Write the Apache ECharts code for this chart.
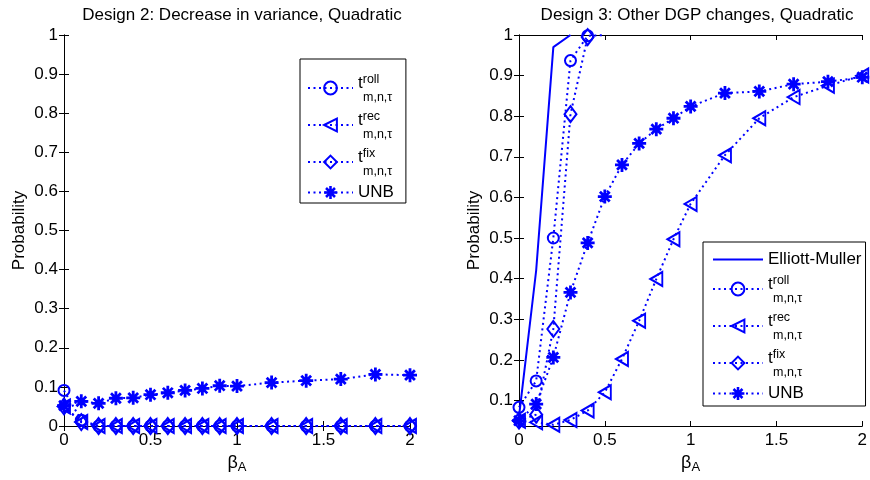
<!DOCTYPE html>
<html>
<head>
<meta charset="utf-8">
<script src="https://cdn.jsdelivr.net/npm/echarts@6/dist/echarts.min.js"></script>
<style>
  html, body { margin: 0; padding: 0; background: #fff; }
  #chart { width: 870px; height: 480px; }
</style>
</head>
<body>
<div id="chart"></div>
<script>
// beta_A values shared by both panels
const betaA = [0, 0.1, 0.2, 0.3, 0.4, 0.5, 0.6, 0.7, 0.8, 0.9, 1, 1.2, 1.4, 1.6, 1.8, 2];

// Design 2: Decrease in variance, Quadratic
const rollL = [0.091, 0.015, 0, 0, 0, 0, 0, 0, 0, 0, 0, 0, 0, 0, 0, 0];
const recL  = [0.05, 0.01, 0, 0, 0, 0, 0, 0, 0, 0, 0, 0, 0, 0, 0, 0];
const fixL  = [0.05, 0.01, 0, 0, 0, 0, 0, 0, 0, 0, 0, 0, 0, 0, 0, 0];
const unbL  = [0.052, 0.063, 0.058, 0.071, 0.072, 0.080, 0.085, 0.091, 0.096, 0.103, 0.102, 0.111, 0.116, 0.120, 0.132, 0.130];

// Design 3: Other DGP changes, Quadratic (curves leave the box at 1)
const emR   = [0.06, 0.42, 0.97, 1.0];
const rollR = [0.083, 0.148, 0.5, 0.937, 0.998, 1.0];
const recR  = [0.05, 0.046, 0.04, 0.052, 0.075, 0.12, 0.202, 0.296, 0.399, 0.497, 0.584, 0.704, 0.795, 0.847, 0.875, 0.9];
const fixR  = [0.05, 0.065, 0.276, 0.805, 0.995];
const unbR  = [0.05, 0.091, 0.206, 0.366, 0.488, 0.602, 0.68, 0.733, 0.768, 0.795, 0.824, 0.857, 0.861, 0.879, 0.885, 0.896];

// tick labels
const xTicks = [0, 0.5, 1, 1.5, 2];
const yTicksRight = [0.1, 0.2, 0.3, 0.4, 0.5, 0.6, 0.7, 0.8, 0.9, 1];

const BLUE = '#0000ff';
const FONT = 'Liberation Sans, Arial, sans-serif';
// matlab style asterisk (4 bars)
const STAR = 'path://M-10,-2L10,-2L10,2L-10,2Z M-2,-10L2,-10L2,10L-2,10Z M-5.59,-8.41L8.41,5.59L5.59,8.41L-8.41,-5.59Z M-8.41,5.59L5.59,-8.41L8.41,-5.59L-5.59,8.41Z';

const hollow = { color: 'rgba(255,255,255,0)', borderColor: BLUE, borderWidth: 2 };
const markers = {
  roll: { symbol: 'circle', symbolSize: 11, itemStyle: hollow },
  rec:  { symbol: 'triangle', symbolSize: [14, 12], symbolRotate: 90, itemStyle: hollow },
  fix:  { symbol: 'diamond', symbolSize: [12, 16], itemStyle: hollow },
  unb:  { symbol: STAR, symbolSize: 14, itemStyle: { color: BLUE, borderWidth: 0 } },
  em:   { symbol: 'none', itemStyle: { color: BLUE } }
};

function makeSeries(name, panel, ys, kind, solid) {
  const m = markers[kind];
  return Object.assign({
    type: 'line',
    name: name,
    xAxisIndex: panel * 2,
    yAxisIndex: panel * 2,
    data: ys.map((y, i) => [betaA[i], y]),
    showAllSymbol: true,
    lineStyle: { color: BLUE, width: 2, type: solid ? 'solid' : [2, 3.5] },
    emphasis: { disabled: true },
    z: 3
  }, m);
}

const seriesList = [
  makeSeries('L_roll', 0, rollL, 'roll'),
  makeSeries('L_rec', 0, recL, 'rec'),
  makeSeries('L_fix', 0, fixL, 'fix'),
  makeSeries('L_unb', 0, unbL, 'unb'),
  makeSeries('R_em', 1, emR, 'em', true),
  makeSeries('R_roll', 1, rollR, 'roll'),
  makeSeries('R_rec', 1, recR, 'rec'),
  makeSeries('R_fix', 1, fixR, 'fix'),
  makeSeries('R_unb', 1, unbR, 'unb')
];
// the last roll point sits on the top border, no marker visible there
seriesList[5].data[rollR.length - 1] = { value: [betaA[rollR.length - 1], 1.0], symbol: 'none' };

const legendText = {
  roll: '{t|t}{sup|roll}\n{ind|}{sub|m,n,τ}',
  rec: '{t|t}{sup|rec}\n{ind|}{sub|m,n,τ}',
  fix: '{t|t}{sup|fix}\n{ind|}{sub|m,n,τ}',
  unb: '{n|UNB}',
  em: '{e|Elliott-Muller}'
};
const legendRich = {
  t: { fontSize: 17, lineHeight: 19, verticalAlign: 'bottom', fontFamily: FONT, color: '#000' },
  sup: { fontSize: 12.5, lineHeight: 13, verticalAlign: 'top', fontFamily: FONT, color: '#000' },
  ind: { width: 5, lineHeight: 11 },
  sub: { fontSize: 12.5, lineHeight: 11, fontFamily: FONT, color: '#000' },
  n: { fontSize: 17, lineHeight: 26, fontFamily: FONT, color: '#000' },
  e: { fontSize: 17, lineHeight: 13, fontFamily: FONT, color: '#000' }
};

function makeLegend(names, left, top, padding, itemWidth) {
  return {
    orient: 'vertical',
    left: left,
    top: top,
    data: names.map((n) => n === 'R_em' ? { name: n, itemStyle: { opacity: 0 } } : n),
    padding: padding,
    itemGap: 6,
    itemWidth: itemWidth,
    itemHeight: 16,
    backgroundColor: '#fff',
    borderColor: '#000',
    borderWidth: 1,
    borderRadius: 0,
    selectedMode: false,
    formatter: (name) => legendText[name.split('_')[1]],
    textStyle: { rich: legendRich, fontFamily: FONT, color: '#000' }
  };
}

const labelStyle = { fontSize: 17, fontFamily: FONT, color: '#000' };
const lineBlack = { show: true, lineStyle: { color: '#000', width: 1 } };

function xAxes(grid) {
  const base = {
    type: 'value', gridIndex: grid, min: 0, max: 2, interval: 0.5,
    axisLine: lineBlack, splitLine: { show: false },
    axisTick: { inside: true, length: 5, lineStyle: { color: '#000' } }
  };
  return [
    Object.assign({}, base, {
      position: 'bottom',
      axisLabel: Object.assign({ margin: 6 }, labelStyle),
      name: '{b|β}{s|A}',
      nameLocation: 'middle',
      nameGap: 24,
      nameTextStyle: {
        rich: {
          b: { fontSize: 18, lineHeight: 20, verticalAlign: 'top', fontFamily: FONT, color: '#000' },
          s: { fontSize: 13, lineHeight: 13, verticalAlign: 'bottom', fontFamily: FONT, color: '#000' }
        }
      }
    }),
    Object.assign({}, base, { position: 'top', axisLabel: { show: false } })
  ];
}

function yAxes(grid, min, custom) {
  const tick = { inside: true, length: 5, lineStyle: { color: '#000' } };
  const lab = Object.assign({ margin: 6 }, labelStyle);
  if (custom) { tick.customValues = custom; lab.customValues = custom; }
  const base = {
    type: 'value', gridIndex: grid, min: min, max: 1,
    axisLine: lineBlack, splitLine: { show: false }, axisTick: tick
  };
  if (!custom) base.interval = 0.1;
  return [
    Object.assign({}, base, {
      position: 'left', axisLabel: lab,
      name: 'Probability', nameLocation: 'middle', nameGap: 36,
      nameTextStyle: labelStyle
    }),
    Object.assign({}, base, { position: 'right', axisLabel: { show: false } })
  ];
}

const chart = echarts.init(document.getElementById('chart'), null, { renderer: 'canvas' });
chart.setOption({
  animation: false,
  backgroundColor: '#fff',
  title: [
    { text: 'Design 2: Decrease in variance, Quadratic', left: 237, top: 2, textAlign: 'center',
      textStyle: { fontSize: 17, fontWeight: 'normal', fontFamily: FONT, color: '#000' } },
    { text: 'Design 3: Other DGP changes, Quadratic', left: 692, top: 2, textAlign: 'center',
      textStyle: { fontSize: 17, fontWeight: 'normal', fontFamily: FONT, color: '#000' } }
  ],
  grid: [
    { left: 64, top: 35, width: 346, height: 391 },
    { left: 519, top: 35, width: 347, height: 391 }
  ],
  xAxis: xAxes(0).concat(xAxes(1)),
  yAxis: yAxes(0, 0, null).concat(yAxes(1, 0.037, yTicksRight)),
  legend: [
    makeLegend(['L_roll', 'L_rec', 'L_fix', 'L_unb'], 300, 59, [14, 12, 2, 7], 45),
    makeLegend(['R_em', 'R_roll', 'R_rec', 'R_fix', 'R_unb'], 703, 242, [9, 4, 4, 9], 50)
  ],
  series: seriesList
});
</script>
</body>
</html>
